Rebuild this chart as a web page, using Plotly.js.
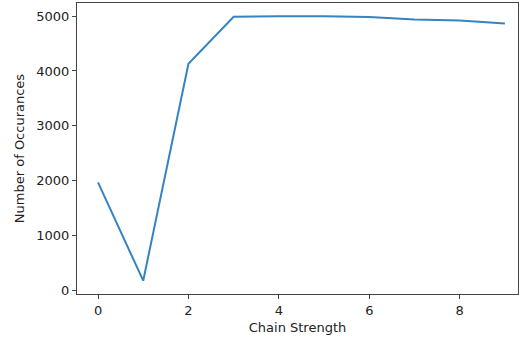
<!DOCTYPE html>
<html>
<head>
<meta charset="utf-8">
<script src="https://cdn.plot.ly/plotly-3.0.1.min.js"></script>
<style>html,body{margin:0;padding:0;background:#fff;}#chart{width:519px;height:341px;}</style>
</head>
<body>
<div id="chart"></div>
<script>
const chainStrength = [0, 1, 2, 3, 4, 5, 6, 7, 8, 9];
const occurrences = [1965, 170, 4130, 4990, 5000, 5000, 4985, 4940, 4920, 4865];
const xTicks = [0, 2, 4, 6, 8];
const yTicks = [0, 1000, 2000, 3000, 4000, 5000];

const font = {family: 'DejaVu Sans, sans-serif', size: 13, color: '#222'};
const axisCommon = {
  showgrid: false, zeroline: false, showline: true, mirror: true,
  linecolor: '#444', linewidth: 1, ticks: 'outside', ticklen: 4, tickwidth: 1,
  tickcolor: '#444', tickfont: font
};

Plotly.newPlot('chart', [{
  x: chainStrength, y: occurrences, type: 'scatter', mode: 'lines',
  line: {color: '#3583c0', width: 2}
}], {
  width: 519, height: 341,
  margin: {l: 77, r: 1, t: 3, b: 47},
  paper_bgcolor: '#fff', plot_bgcolor: '#fff',
  showlegend: false,
  font: font,
  xaxis: Object.assign({}, axisCommon, {
    range: [-0.465, 9.29], tickmode: 'array', tickvals: xTicks,
    title: {text: 'Chain Strength', font: font, standoff: 6}
  }),
  yaxis: Object.assign({}, axisCommon, {
    range: [-73, 5241], tickmode: 'array', tickvals: yTicks,
    title: {text: 'Number of Occurances', font: font, standoff: 8}
  })
}, {staticPlot: true, displayModeBar: false});
</script>
</body>
</html>
